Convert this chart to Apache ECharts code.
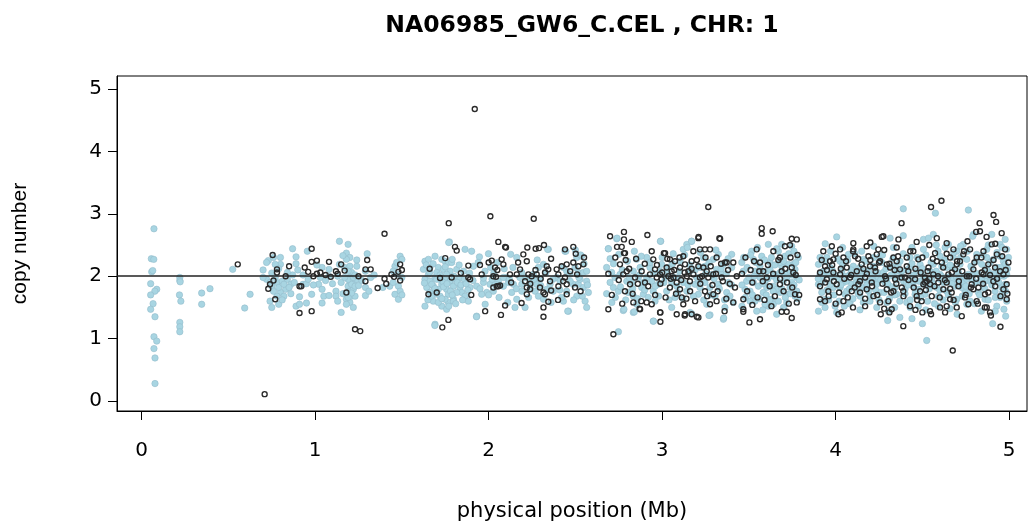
<!DOCTYPE html>
<html><head><meta charset="utf-8">
<script src="https://cdn.jsdelivr.net/npm/echarts@6/dist/echarts.min.js"></script>
<style>html,body{margin:0;padding:0;background:#fff}#c{width:1031px;height:527px}</style>
</head><body><div id="c"></div>
<script>
var titleText = "NA06985_GW6_C.CEL , CHR: 1";
var xTicks = [0, 1, 2, 3, 4, 5];
var yTicks = [0, 1, 2, 3, 4, 5];
var refLevel = 2;

// light blue points (Mb, copy number)
var blueStart = [[0.071,2.76],[0.056,2.28],[0.070,2.27],[0.058,2.07],[0.064,2.09],[0.052,1.88],[0.087,1.79],[0.076,1.76],[0.052,1.70],[0.066,1.56],[0.052,1.47],[0.077,1.35],[0.071,1.03],[0.087,0.96],[0.071,0.84],[0.077,0.69],[0.077,0.28],
[0.22,1.98],[0.22,1.93],[0.222,1.91],[0.218,1.70],[0.226,1.60],[0.22,1.26],[0.22,1.19],[0.22,1.11],
[0.346,1.73],[0.394,1.80],[0.346,1.55],[0.525,2.11],[0.594,1.49],[0.625,1.71]];

var blueSeg1 = [[0.70,2.10],[0.73,2.25],[0.76,2.30],[0.80,2.30],[0.80,2.19],[0.77,2.19],[0.72,1.95],[0.74,1.90],[0.75,1.84],[0.78,1.90],[0.81,1.92],[0.84,1.95],[0.86,1.87],[0.83,1.79],[0.80,1.74],[0.82,1.68],[0.78,1.68],[0.76,1.76],[0.79,1.82],[0.74,1.60],[0.75,1.50],[0.79,1.55],[0.70,1.98],
[0.87,2.44],[0.89,2.31],[0.89,2.20],[0.87,2.02],[0.955,2.40],[0.93,1.87],[0.95,1.88],[0.91,1.67],[0.98,1.71],[0.89,1.52],[0.91,1.55],[0.95,1.57],
[1.04,2.14],[1.03,1.98],[1.02,1.87],[1.04,1.79],[1.05,1.68],[1.04,1.57],[1.08,1.69],[1.08,2.11],[1.08,2.00],
[1.14,2.56],[1.19,2.51],[1.18,2.37],[1.20,2.30],[1.18,2.27],[1.17,2.14],[1.14,2.19],[1.20,2.16],[1.24,2.16],[1.21,2.06],[1.20,1.98],[1.22,1.90],[1.19,1.84],[1.20,1.76],[1.22,1.79],[1.21,1.68],[1.18,1.63],[1.20,1.58],[1.23,1.68],[1.15,1.90],[1.12,1.76],[1.12,1.68],[1.15,1.42],[1.22,1.50],[1.18,1.55],[1.24,1.95],
[1.20,1.92],[1.21,1.87],[1.19,1.95],[1.23,1.84],[1.22,1.98],[0.82,1.87],[0.85,1.82],
[1.30,2.36],[1.29,2.08],[1.29,1.82],[1.29,1.69],[1.32,1.98],
[1.39,1.82],[1.43,1.84],[1.46,2.16],[1.49,2.32],[1.50,2.27],[1.47,2.03],[1.48,1.84],[1.46,1.71],[1.48,1.63],[1.49,1.76],[1.50,1.98],[1.45,2.08],
[0.72,2.22],[0.75,2.05],[0.77,1.98],[0.79,2.12],[0.81,1.62],[0.84,2.06],[0.86,1.72],[0.88,1.90],[0.90,2.10],[0.93,2.02],[0.96,1.95],[0.99,1.86],[1.01,2.18],[1.06,1.93],[1.10,1.88],[1.13,2.00],[1.16,1.72],[1.17,1.98],[1.19,2.08],[1.21,1.73],[1.23,2.02],[1.25,1.85],[1.16,2.33],[1.19,1.66],[1.27,1.93],[1.31,1.76],[1.34,2.02],[1.45,1.90],[1.47,2.22],[1.50,1.70],[1.13,1.60],[1.24,2.26]];

var blueSeg2 = [[1.633,2.24],[1.653,2.27],[1.691,2.32],[1.730,2.27],[1.749,2.24],[1.768,2.22],[1.787,2.22],[1.624,2.11],[1.662,2.14],[1.710,2.14],[1.739,2.11],[1.778,2.08],[1.816,2.11],
[1.633,1.95],[1.662,1.92],[1.691,1.98],[1.720,1.95],[1.749,1.98],[1.778,1.92],[1.806,1.95],[1.643,1.82],[1.681,1.84],[1.730,1.87],[1.758,1.79],[1.797,1.84],[1.835,1.82],[1.691,1.71],[1.720,1.68],[1.768,1.71],[1.797,1.63],[1.845,1.74],[1.864,1.68],[1.883,1.60],[1.730,1.52],[1.768,1.58],[1.797,1.60],[1.758,1.47],[1.633,1.52],[1.691,1.23],[1.931,1.36],[1.662,1.74],[1.681,1.60],
[1.774,2.55],[1.864,2.43],[1.902,2.40],[1.947,2.31],[1.999,2.36],[2.050,2.22],[2.127,2.35],[2.162,2.30],[1.912,2.16],[1.979,2.08],[2.012,2.14],
[1.970,1.90],[2.008,1.87],[1.989,1.74],[1.960,1.71],[2.056,1.92],[2.104,1.98],[2.114,1.90],[2.027,1.76],[2.085,1.84],[2.143,1.87],[2.133,1.74],[2.191,1.76],[2.162,1.63],[2.210,1.50],[2.152,1.50],[2.191,1.87],
[2.258,2.03],[2.287,2.14],[2.316,2.19],[2.344,2.43],[2.296,1.95],[2.277,1.87],[2.268,1.76],[2.287,1.68],[2.316,1.63],[2.335,1.79],[2.239,1.92],
[2.392,1.98],[2.412,1.92],[2.440,2.40],[2.450,2.08],[2.469,2.03],[2.508,2.30],[2.536,2.32],[2.498,2.14],[2.517,2.06],[2.546,2.06],[2.488,1.87],[2.517,1.87],[2.565,1.92],[2.450,1.76],[2.508,1.68],[2.556,1.60],[2.460,1.44],[2.431,1.60],
[1.653,2.03],[1.701,2.06],[1.758,2.03],[1.672,1.87],[1.739,1.90],[1.710,1.79],[1.816,1.74],[1.749,1.63],[1.835,1.98],[1.855,2.08],[1.893,1.82],[1.931,1.84],[2.037,1.87],[2.085,1.98],[2.210,1.98],[2.239,1.82],[2.354,1.87],[2.373,1.76],[2.546,1.82],[2.565,2.08],[2.527,1.95],[2.575,1.74],[2.565,1.50],
[1.77,2.54],[1.69,1.21],[1.93,1.35],[2.456,1.44],[2.53,2.34],[2.445,2.40],[2.34,2.43],
[1.64,2.18],[1.66,2.06],[1.68,2.20],[1.70,1.95],[1.72,2.02],[1.74,1.83],[1.76,1.88],[1.78,1.76],[1.80,2.00],[1.82,1.90],[1.84,1.86],[1.86,1.95],[1.88,1.78],[1.65,1.62],[1.67,1.68],[1.71,1.58],[1.73,1.64],[1.77,1.52],[1.79,1.70],[1.81,1.56],[1.85,1.62],[1.87,1.88],[1.89,2.05],[1.63,1.89],[1.69,1.80],[1.75,2.15],[1.79,2.27],[1.83,2.18],[1.91,1.93],[1.95,1.80],[1.97,1.97],[2.00,1.70],[2.03,2.05],[2.06,1.66],[2.09,2.12],[2.12,1.95],[2.16,1.80],[2.19,2.06],[2.23,1.66],[2.26,1.95],[2.30,1.85],[2.33,2.05],[2.37,1.95],[2.41,1.78],[2.43,2.14],[2.47,1.92],[2.49,1.62],[2.52,1.98],[2.55,2.20],[2.57,1.86],[2.54,1.68],[2.50,2.42],[2.42,1.66],[2.36,1.58],[2.28,2.26],[2.14,2.14],[2.02,1.95],[1.94,2.22],[1.98,1.55],[2.11,1.58],[2.18,1.98]];

var blueSeg3 = [[2.690,2.44],[2.738,2.60],[2.680,2.14],[2.709,2.06],[2.728,1.98],[2.719,1.82],[2.748,1.76],[2.796,1.92],[2.825,1.90],[2.834,2.08],[2.853,2.27],[2.873,2.14],[2.863,1.98],[2.882,1.82],[2.834,1.68],[2.853,1.55],[2.892,1.71],[2.911,1.98],[2.911,2.30],[2.930,2.14],[2.940,1.92],[2.949,1.76],[2.959,1.60],[2.978,1.87],[2.988,2.08],[2.997,2.19],[2.992,2.56],[3.017,1.98],[3.026,1.76],[3.036,2.14],[3.055,1.90],[3.055,1.50],[3.074,1.66],[3.084,1.84],[3.093,1.98],[3.103,2.24],[3.122,2.43],[3.142,2.51],[3.170,2.56],[3.161,2.08],[3.190,1.87],[3.199,1.98],[3.209,1.71],[3.218,2.14],[3.238,2.30],[3.247,1.90],[3.257,1.55],[3.276,1.82],[3.286,2.03],[3.295,2.27],[3.305,1.68],[3.324,2.35],[3.324,1.87],[3.343,2.03],[3.353,2.19],[3.362,1.50],[3.372,1.74],[3.382,1.90],[3.401,2.35],[3.401,2.14],[3.391,1.68],
[2.834,1.42],[2.776,1.45],[2.949,1.28],[2.748,1.11],[3.161,1.42],[3.276,1.38],[3.353,1.31],
[2.700,1.90],[2.757,2.03],[2.805,1.74],[2.892,1.90],[3.122,1.90],[3.142,1.76],[3.218,1.82],[3.314,2.11],[3.247,2.16],
[3.459,2.22],[3.468,2.08],[3.487,1.92],[3.507,1.76],[3.516,2.40],[3.526,2.27],[3.535,1.60],[3.545,2.03],[3.555,1.84],[3.564,2.16],[3.574,2.32],[3.583,1.74],[3.593,1.92],[3.603,2.08],[3.612,1.52],[3.622,2.22],[3.631,1.63],[3.641,1.84],[3.651,2.03],[3.660,1.39],[3.670,2.40],[3.679,1.74],[3.689,2.16],[3.699,1.92],[3.708,2.32],[3.718,1.58],[3.727,2.06],[3.737,1.82],[3.747,2.48],[3.756,2.19],[3.766,1.68],[3.776,1.98],[3.785,2.30],[3.612,2.51],[3.689,2.51],[3.545,1.44],[3.593,1.55],
[3.478,1.79],[3.526,1.90],[3.564,1.98],[3.603,1.82],[3.641,2.00],[3.660,1.79],[3.708,2.03],[3.747,1.90],[3.776,1.76],[3.535,2.08],[3.622,2.11],[3.679,2.22],[3.727,2.19],[3.766,2.11],[3.507,1.60],[3.641,1.55],[3.718,1.71],
[2.74,2.61],[2.99,2.56],[3.17,2.56],[3.145,2.46],[2.69,2.44],[3.064,2.36],[2.78,1.47],[2.84,1.43],[2.95,1.28],[3.17,1.40],[3.27,1.37],[3.355,1.33],
[2.68,1.72],[2.70,2.28],[2.71,1.58],[2.72,2.20],[2.73,1.66],[2.75,2.35],[2.76,1.83],[2.77,2.10],[2.79,1.62],[2.80,2.24],[2.81,1.98],[2.83,1.80],[2.84,2.40],[2.86,1.64],[2.87,2.02],[2.88,2.32],[2.90,1.78],[2.92,1.66],[2.93,2.22],[2.95,2.05],[2.96,1.84],[2.98,1.68],[3.00,2.30],[3.01,1.90],[3.03,2.06],[3.04,1.62],[3.06,2.20],[3.07,1.98],[3.09,1.74],[3.10,2.08],[3.12,1.64],[3.13,2.34],[3.15,1.86],[3.16,2.18],[3.18,1.68],[3.19,2.10],[3.21,1.92],[3.22,2.38],[3.24,1.62],[3.25,2.04],[3.27,2.22],[3.28,1.70],[3.30,1.96],[3.31,2.42],[3.33,1.80],[3.34,2.12],[3.36,1.62],[3.37,2.04],[3.38,2.28],[3.40,1.86],[3.41,1.58],
[3.46,1.86],[3.47,2.30],[3.48,1.66],[3.49,2.14],[3.50,1.98],[3.51,2.34],[3.52,1.70],[3.53,2.00],[3.54,2.22],[3.56,1.64],[3.57,2.06],[3.58,1.88],[3.59,2.26],[3.60,1.70],[3.61,1.96],[3.62,1.62],[3.63,2.30],[3.64,1.76],[3.65,2.18],[3.66,1.94],[3.67,1.60],[3.68,2.06],[3.69,1.80],[3.70,2.24],[3.71,1.66],[3.72,1.98],[3.73,2.36],[3.74,1.72],[3.75,2.02],[3.76,1.86],[3.77,2.22],[3.78,1.64],[3.79,1.94],[3.46,1.52],[3.58,1.46],[3.70,1.50],[3.55,2.46],[3.66,2.44],[3.76,2.40]];

var blueSeg4 = [[3.901,2.19],[3.910,2.03],[3.901,1.87],[3.920,1.74],[3.939,1.63],[3.901,1.44],[3.949,2.30],[3.968,2.14],[3.978,1.98],[3.987,1.82],[3.997,1.52],[4.006,1.42],[4.006,2.63],[4.026,2.24],[4.035,2.08],[4.045,1.90],[4.054,1.71],[4.083,1.58],[4.074,2.35],[4.102,2.16],[4.112,1.98],[4.122,1.79],[4.141,1.68],[4.160,2.27],[4.170,2.08],[4.179,1.92],[4.189,1.76],[4.198,1.60],[4.218,2.16],[4.227,2.03],[4.237,1.87],[4.256,1.74],[4.266,2.22],[4.275,2.06],[4.285,1.90],[4.295,1.58],[4.304,1.44],[4.314,2.61],[4.323,2.16],[4.333,2.00],[4.343,1.82],[4.352,1.71],[4.371,2.24],[4.381,2.08],[4.391,1.92],[4.400,1.79],[4.410,1.58],[4.429,2.14],[4.439,1.98],[4.448,1.84],[4.458,1.71],[4.477,1.52],[4.487,2.19],[4.496,2.03],[4.506,1.87],[4.515,1.71],[4.506,2.59],[4.535,2.61],[4.544,2.08],[4.554,1.95],[4.563,2.19],[4.563,2.67],[4.583,1.82],[4.592,1.68],[4.602,2.03],[4.612,2.16],[4.621,1.90],[4.631,2.46],[4.640,1.76],[4.650,2.51],[4.660,2.00],[4.669,2.14],[4.679,2.30],[4.688,1.84],[4.698,1.63],[4.708,2.06],[4.717,2.19],[4.736,2.51],[4.736,1.90],[4.746,1.76],[4.756,2.27],[4.765,2.03],[4.775,1.60],[4.784,2.14],[4.794,2.67],[4.804,1.90],[4.813,2.35],[4.823,1.74],[4.832,2.00],[4.842,2.19],[4.852,1.82],[4.861,1.63],[4.871,2.43],[4.880,2.08],[4.890,1.92],[4.900,2.67],[4.909,2.27],[4.919,1.76],[4.929,2.14],[4.938,1.98],[4.948,2.51],[4.957,1.82],[4.967,2.24],[4.977,2.59],[4.986,2.03],[4.986,1.60],[4.996,2.30],[4.948,1.66],
[3.968,1.87],[4.016,1.95],[4.064,1.92],[4.141,1.92],[4.218,1.95],[4.295,1.95],[4.371,1.98],[4.448,1.92],[4.525,1.95],[4.602,1.95],[4.679,1.95],[4.756,1.95],[4.832,1.92],[4.909,1.95],[3.929,2.08],[4.083,2.03],[4.198,2.03],[4.467,2.08],[4.640,2.14],[4.871,2.00],
[3.920,1.90],[3.958,2.03],[4.026,1.82],[4.064,1.76],[4.093,1.87],[4.131,2.06],[4.160,1.82],[4.246,1.98],[4.314,1.84],[4.352,2.08],[4.410,1.90],[4.477,1.79],[4.535,1.87],[4.573,2.03],[4.640,1.92],[4.698,1.98],[4.727,1.82],[4.794,2.03],[4.861,1.92],[4.938,2.08],[4.977,1.87],[4.977,2.19],[3.939,1.50],[4.237,1.50],[4.429,1.50],[4.592,1.52],[4.756,1.55],[4.929,1.52],[4.256,2.32],[4.429,2.30],[4.602,2.32],[4.871,2.30],[4.948,2.32],[4.150,2.40],[4.506,2.43],[4.698,2.40],[4.333,2.46],[4.986,2.43],
[4.39,3.08],[4.575,3.01],[4.765,3.06],[4.525,0.97],[4.08,1.56],[4.30,1.29],[4.37,1.34],[4.44,1.32],[4.50,1.24],[4.70,1.39],[4.905,1.24],[4.92,1.44],[4.97,1.47],[4.39,2.65],[4.79,2.64],
[3.90,1.96],[3.91,2.30],[3.92,1.58],[3.93,2.00],[3.94,2.24],[3.95,1.78],[3.96,1.62],[3.97,2.40],[3.98,2.10],[3.99,1.70],[4.00,2.02],[4.01,2.28],[4.02,1.60],[4.03,1.86],[4.04,2.18],[4.05,1.52],[4.06,2.00],[4.07,2.26],[4.08,1.80],[4.09,2.10],[4.10,1.64],[4.11,2.36],[4.12,1.90],[4.13,1.72],[4.14,2.14],[4.15,2.00],[4.16,1.58],[4.17,2.24],[4.18,1.86],[4.19,2.10],[4.20,1.68],[4.21,1.94],[4.22,2.30],[4.23,1.78],[4.24,2.06],[4.25,1.62],[4.26,1.94],[4.27,2.34],[4.28,1.74],[4.29,2.12],[4.30,1.88],[4.31,1.64],[4.32,2.02],[4.33,2.28],[4.34,1.70],[4.35,1.94],[4.36,2.18],[4.37,1.60],[4.38,2.00],[4.39,2.36],[4.40,1.72],[4.41,2.10],[4.42,1.86],[4.43,1.62],[4.44,2.20],[4.45,2.02],[4.46,1.76],[4.47,2.30],[4.48,1.92],[4.49,1.66],[4.50,2.12],[4.51,1.98],[4.52,2.34],[4.53,1.60],[4.54,1.80],[4.55,2.22],[4.56,1.88],[4.57,1.56],[4.58,2.08],[4.59,2.40],[4.60,1.78],[4.61,2.00],[4.62,1.62],[4.63,2.26],[4.64,1.98],[4.65,1.70],[4.66,2.18],[4.67,1.88],[4.68,2.38],[4.69,1.58],[4.70,2.08],[4.71,1.94],[4.72,2.30],[4.73,1.68],[4.74,2.00],[4.75,1.84],[4.76,2.40],[4.77,1.72],[4.78,2.16],[4.79,1.94],[4.80,1.56],[4.81,2.24],[4.82,2.04],[4.83,1.70],[4.84,1.94],[4.85,2.34],[4.86,1.80],[4.87,2.12],[4.88,1.62],[4.89,2.22],[4.90,1.86],[4.91,2.04],[4.92,1.66],[4.93,2.38],[4.94,1.90],[4.95,2.14],[4.96,1.72],[4.97,2.00],[4.98,1.76],[4.99,2.12],[4.96,2.46],[4.88,2.50],[4.72,2.48],[4.58,2.50],[4.44,2.46],[4.22,2.48],[4.04,2.46],[3.94,2.52],[4.14,1.46],[4.34,1.50],[4.52,1.46],[4.66,1.48],[4.84,1.44],[4.98,1.36]];

// open black circles (Mb, copy number)
var blackStart = [[0.554,2.19],[0.709,0.11]];

var blackSeg1 = [[0.755,2.34],[0.78,2.11],[0.78,2.06],[0.73,1.80],[0.74,1.87],[0.77,1.63],[0.98,2.44],[0.94,2.14],[0.91,1.41],[0.98,1.44],[0.98,2.23],[1.01,2.25],[0.99,2.00],[1.01,2.04],[1.03,2.06],[1.08,2.23],[1.09,1.99],[1.12,2.08],[1.13,2.04],[1.15,2.19],[1.18,1.74],[1.29,1.92],[1.30,2.26],[1.32,2.11],[1.29,2.11],[1.36,1.81],[1.41,1.88],[1.40,2.68],[1.23,1.15],[1.26,1.12],[1.455,1.99],[1.48,2.07],[1.49,1.93],[1.49,2.19],[0.91,1.84],[0.92,1.84],
[0.76,1.93],[0.85,2.16],[0.96,2.07],[1.06,2.02],[1.17,2.09],[1.25,2.00],[1.44,2.03],[1.50,2.10],[0.83,2.00],[1.40,1.96]];

var blackSeg2 = [[1.806,2.47],[1.816,2.41],[2.056,2.55],[2.095,2.47],[2.223,2.46],[2.271,2.44],[2.319,2.50],[2.440,2.43],[2.488,2.47],[2.502,2.36],[1.883,2.17],[1.950,2.18],[2.018,2.25],[2.075,2.27],[2.085,2.19],[2.037,2.14],[2.181,2.11],[2.229,2.03],[2.123,2.03],[2.162,2.03],[2.027,2.00],[2.043,1.99],[2.248,2.00],[2.277,2.03],[2.335,2.16],[2.325,2.06],[2.344,2.11],[2.392,2.11],[2.421,2.16],[2.450,2.19],[2.488,2.22],[2.517,2.16],[2.546,2.19],[2.402,2.03],[2.440,1.98],[1.787,1.98],[1.883,1.98],[1.893,1.95],[2.210,1.92],[2.047,1.84],[2.056,1.84],[2.066,1.85],[2.027,1.82],[2.220,1.82],[2.239,1.79],[2.296,1.82],[2.354,1.92],[2.316,1.74],[2.325,1.71],[2.220,1.71],[2.344,1.59],[2.402,1.84],[2.450,1.87],[2.450,1.71],[2.498,1.82],[1.653,1.71],[1.701,1.74],[2.095,1.53],[2.071,1.38],[2.316,1.50],[2.316,1.35],[1.768,1.30],[1.733,1.18],
[1.77,2.85],[2.01,2.96],[2.26,2.92],[1.92,4.68],[2.10,2.46],[2.29,2.45],
[1.66,2.12],[1.72,1.97],[1.75,2.29],[1.84,2.05],[1.90,1.70],[1.96,2.03],[2.00,2.22],[2.05,2.10],[2.13,1.90],[2.17,2.22],[2.20,2.35],[2.24,1.88],[2.27,2.10],[2.30,1.96],[2.36,2.28],[2.40,1.62],[2.43,1.92],[2.47,2.08],[2.51,2.03],[2.53,1.76],[2.55,2.30],[2.36,1.77],[2.19,1.57],[1.98,1.44],[2.22,2.24]];

var blackSeg3 = [[2.700,2.64],[2.780,2.71],[2.780,2.59],[2.825,2.55],[2.915,2.66],[2.767,2.47],[2.786,2.37],[2.757,2.19],[2.796,2.08],[2.776,2.03],[2.815,1.87],[2.786,1.76],[2.834,1.58],[2.873,1.47],[2.690,1.47],[2.719,1.07],[2.949,2.27],[2.959,2.11],[2.988,2.03],[3.017,2.37],[3.045,2.27],[3.026,2.14],[3.055,2.08],[3.074,2.24],[3.103,2.14],[3.122,2.32],[3.132,2.19],[3.151,2.08],[3.170,2.24],[3.180,2.40],[3.209,2.61],[3.218,2.43],[3.247,2.43],[3.276,2.43],[3.209,2.16],[3.238,2.14],[3.257,2.08],[3.084,1.90],[3.103,1.79],[3.113,1.66],[3.122,1.55],[3.132,1.39],[3.170,1.39],[3.209,1.34],[3.276,1.55],[3.295,1.71],[3.314,1.60],[3.362,2.22],[3.372,2.22],[3.334,2.60],[3.314,2.30],[3.410,1.58],[3.420,1.82],[3.430,2.00],[3.468,1.63],[3.468,1.47],[3.468,1.43],[3.503,1.26],[3.564,1.31],[3.574,2.77],[3.574,2.68],[3.637,2.72],[3.545,2.43],[3.564,2.22],[3.583,2.08],[3.603,1.98],[3.641,2.40],[3.679,2.30],[3.689,2.08],[3.708,2.48],[3.737,2.50],[3.747,2.60],[3.776,2.59],[3.747,2.14],[3.756,2.06],[3.766,1.71],[3.776,1.58],[3.679,1.87],[3.689,1.43],[3.718,1.43],[3.747,1.33],[2.988,1.42],[3.084,1.39],[2.911,1.58],[2.940,1.55],[2.882,2.08],[2.844,1.98],
[2.969,1.98],[2.997,1.95],[3.036,2.00],[3.065,1.98],[3.142,2.00],[3.180,2.03],[3.218,1.98],[3.266,1.98],[3.295,2.03],[3.343,1.98],[2.930,2.03],[2.901,1.90],[3.045,1.82],[3.161,1.76],[3.247,1.76],
[3.266,3.11],[2.87,1.48],[2.99,1.27],[2.99,1.42],[3.20,1.35],[3.13,1.37],[3.36,1.44],[3.33,2.61],[3.21,2.63],[2.74,2.47],[2.78,2.37],[3.01,2.37],
[2.69,2.04],[2.71,1.70],[2.73,2.30],[2.75,1.94],[2.77,1.56],[2.79,2.26],[2.81,2.12],[2.83,1.72],[2.85,2.28],[2.86,1.88],[2.88,1.60],[2.90,2.20],[2.92,1.84],[2.94,2.40],[2.96,1.70],[2.97,2.18],[2.99,1.88],[3.00,2.06],[3.02,1.66],[3.03,2.28],[3.05,1.96],[3.07,2.10],[3.08,1.72],[3.10,2.30],[3.11,1.94],[3.13,2.06],[3.14,1.64],[3.16,1.92],[3.17,2.12],[3.19,1.60],[3.20,2.26],[3.22,1.88],[3.23,2.00],[3.25,2.30],[3.26,1.68],[3.28,2.16],[3.29,1.86],[3.31,2.04],[3.32,1.76],[3.34,2.20],[3.35,1.92],[3.37,1.64],[3.38,2.10],[3.39,1.88],[3.41,2.22],
[3.46,2.04],[3.48,2.30],[3.49,1.76],[3.51,2.10],[3.52,1.90],[3.53,2.24],[3.55,1.66],[3.56,2.08],[3.58,1.92],[3.59,1.62],[3.61,2.18],[3.62,1.84],[3.64,2.04],[3.65,1.68],[3.67,2.26],[3.68,1.96],[3.70,1.76],[3.71,2.12],[3.72,1.90],[3.74,2.30],[3.75,1.82],[3.77,2.02],[3.78,2.34],[3.79,1.70],[3.63,1.52],[3.73,1.56],[3.52,1.54]];

var blackSeg4 = [[3.910,2.06],[3.929,2.40],[3.939,2.16],[3.949,1.95],[3.958,1.76],[3.939,1.60],[3.910,1.63],[3.978,2.48],[3.987,2.27],[3.987,2.06],[4.006,1.87],[4.026,2.43],[4.016,1.39],[4.035,1.42],[4.045,2.30],[4.064,2.14],[4.083,1.98],[4.093,1.76],[4.102,2.53],[4.102,2.43],[4.112,2.32],[4.122,2.08],[4.131,1.87],[4.141,1.74],[4.170,1.52],[4.179,2.48],[4.189,2.32],[4.198,2.16],[4.208,1.90],[4.218,1.68],[4.237,2.35],[4.246,2.43],[4.256,2.24],[4.266,2.63],[4.275,2.64],[4.285,2.00],[4.295,1.79],[4.304,1.60],[4.314,2.14],[4.323,1.47],[4.333,2.30],[4.343,1.95],[4.352,2.46],[4.362,2.59],[4.371,2.11],[4.381,1.82],[4.391,1.68],[4.410,2.30],[4.419,2.08],[4.429,1.52],[4.448,2.40],[4.458,1.95],[4.467,2.55],[4.477,2.27],[4.487,1.76],[4.496,1.60],[4.506,1.87],[4.515,1.98],[4.525,1.92],[4.535,2.14],[4.544,1.44],[4.554,1.68],[4.563,2.03],[4.573,2.37],[4.583,2.61],[4.592,1.90],[4.602,1.50],[4.612,2.22],[4.621,1.79],[4.631,1.42],[4.640,2.53],[4.650,2.03],[4.660,2.30],[4.669,1.74],[4.679,2.43],[4.688,2.11],[4.698,1.50],[4.708,1.84],[4.717,2.24],[4.727,1.36],[4.736,2.35],[4.746,1.66],[4.756,2.00],[4.765,1.55],[4.775,2.43],[4.784,1.87],[4.794,2.11],[4.813,2.30],[4.823,1.82],[4.832,2.72],[4.842,2.06],[4.852,2.40],[4.861,1.71],[4.871,1.50],[4.880,2.19],[4.890,1.42],[4.900,2.51],[4.909,1.92],[4.929,2.35],[4.948,2.08],[4.957,2.69],[4.967,1.79],[4.977,2.43],[4.986,1.87],[4.996,2.22],
[3.968,2.24],[4.026,2.03],[4.150,2.19],[4.170,1.98],[4.227,2.14],[4.295,2.19],[4.352,2.24],[4.400,1.98],[4.515,1.90],[4.544,1.87],[4.583,2.24],[4.640,1.90],[4.698,2.19],[4.794,1.79],[4.852,2.03],[4.919,2.14],[4.967,2.03],[4.179,1.79],[4.333,1.76],[4.467,1.68],[4.660,1.63],[4.813,1.60],[4.986,1.63],[4.045,1.60],[4.256,1.58],
[4.55,3.11],[4.61,3.21],[4.38,2.85],[4.91,2.98],[4.925,2.87],[4.83,2.85],[4.675,0.81],[4.26,1.39],[4.31,1.42],[4.39,1.20],[4.50,1.42],[4.55,1.39],[4.95,1.19],[4.895,1.37],[4.81,2.71],[4.87,2.63],
[3.91,1.84],[3.92,2.26],[3.94,1.90],[3.95,2.10],[3.96,1.68],[3.98,2.18],[3.99,1.92],[4.00,2.36],[4.02,1.74],[4.03,2.12],[4.05,1.96],[4.06,2.24],[4.07,1.66],[4.09,2.02],[4.10,2.40],[4.11,1.82],[4.13,2.28],[4.14,1.92],[4.16,2.12],[4.17,1.64],[4.18,2.04],[4.20,2.26],[4.21,1.84],[4.23,2.08],[4.24,1.70],[4.25,2.22],[4.27,1.88],[4.28,2.42],[4.29,1.96],[4.31,2.20],[4.32,1.74],[4.34,2.10],[4.35,1.88],[4.36,2.32],[4.38,1.98],[4.39,1.76],[4.41,2.16],[4.42,1.94],[4.43,2.40],[4.45,1.82],[4.46,2.12],[4.47,1.62],[4.49,2.06],[4.50,2.30],[4.52,1.78],[4.53,2.08],[4.54,1.96],[4.56,2.28],[4.57,1.84],[4.59,2.00],[4.60,1.66],[4.62,2.14],[4.63,1.94],[4.64,2.36],[4.66,1.80],[4.67,2.06],[4.68,1.62],[4.70,2.24],[4.71,1.92],[4.73,2.08],[4.74,2.40],[4.75,1.70],[4.77,2.00],[4.78,1.82],[4.80,2.22],[4.81,1.96],[4.82,1.56],[4.84,2.30],[4.85,1.88],[4.86,2.10],[4.88,1.74],[4.89,2.02],[4.91,2.26],[4.92,1.84],[4.93,1.96],[4.95,1.68],[4.96,2.32],[4.98,2.10],[4.99,1.72],[4.10,1.50],[4.28,1.48],[4.46,1.46],[4.64,1.52],[4.86,1.50],[4.00,1.56],[4.20,2.54],[4.54,2.50],[4.76,2.56],[4.92,2.52]];

var bluePoints = blueStart.concat(blueSeg1, blueSeg2, blueSeg3, blueSeg4);
var blackPoints = blackStart.concat(blackSeg1, blackSeg2, blackSeg3, blackSeg4);

var HFONT = "'DejaVu Sans', 'Liberation Sans', Arial, sans-serif";
var VFONT = "'Liberation Sans', Arial, Helvetica, sans-serif";
var chart = echarts.init(document.getElementById('c'), null, {renderer: 'canvas'});
chart.setOption({
  animation: false,
  backgroundColor: '#ffffff',
  title: {
    text: titleText, left: 577, top: 9, textAlign: 'center',
    textStyle: {fontFamily: HFONT, fontSize: 23.5, fontWeight: 'bold', color: '#000'}
  },
  grid: {left: 117, top: 76, width: 910, height: 336, show: true, borderColor: '#000', borderWidth: 1, backgroundColor: 'transparent'},
  xAxis: {
    type: 'value', min: -0.142, max: 5.103, position: 'bottom',
    name: 'physical position (Mb)', nameLocation: 'middle', nameGap: 90,
    nameTextStyle: {fontFamily: HFONT, fontSize: 21, color: '#000'},
    axisLine: {show: true, onZero: false, lineStyle: {color: '#000', width: 1}},
    axisTick: {show: true, length: 9, inside: false, customValues: xTicks, lineStyle: {color: '#000', width: 1}},
    axisLabel: {show: true, margin: 30, customValues: xTicks, fontFamily: HFONT, fontSize: 20, color: '#000'},
    splitLine: {show: false}
  },
  yAxis: {
    type: 'value', min: -0.16, max: 5.208, position: 'left',
    name: 'copy number', nameLocation: 'middle', nameGap: 86, nameRotate: 90,
    nameTextStyle: {fontFamily: VFONT, fontSize: 21, color: '#000'},
    axisLine: {show: true, onZero: false, lineStyle: {color: '#000', width: 1}},
    axisTick: {show: true, length: 9, inside: false, customValues: yTicks, lineStyle: {color: '#000', width: 1}},
    axisLabel: {show: true, margin: 15, customValues: yTicks, fontFamily: HFONT, fontSize: 20, color: '#000'},
    splitLine: {show: false}
  },
  series: [
    {
      type: 'scatter', name: 'blue', data: bluePoints, symbol: 'circle', symbolSize: 6.4,
      itemStyle: {color: '#a8d5e2', borderColor: '#93bccb', borderWidth: 0.6, opacity: 1},
      markLine: {
        silent: true, symbol: 'none', label: {show: false},
        lineStyle: {color: '#222', width: 1.6, type: 'solid'},
        data: [{yAxis: refLevel}]
      },
      z: 2
    },
    {
      type: 'scatter', name: 'black', data: blackPoints, symbol: 'circle', symbolSize: 5,
      itemStyle: {color: 'rgba(255,255,255,0)', borderColor: '#2b2b2b', borderWidth: 1.4, opacity: 1},
      z: 3
    }
  ]
});
</script>
</body></html>
